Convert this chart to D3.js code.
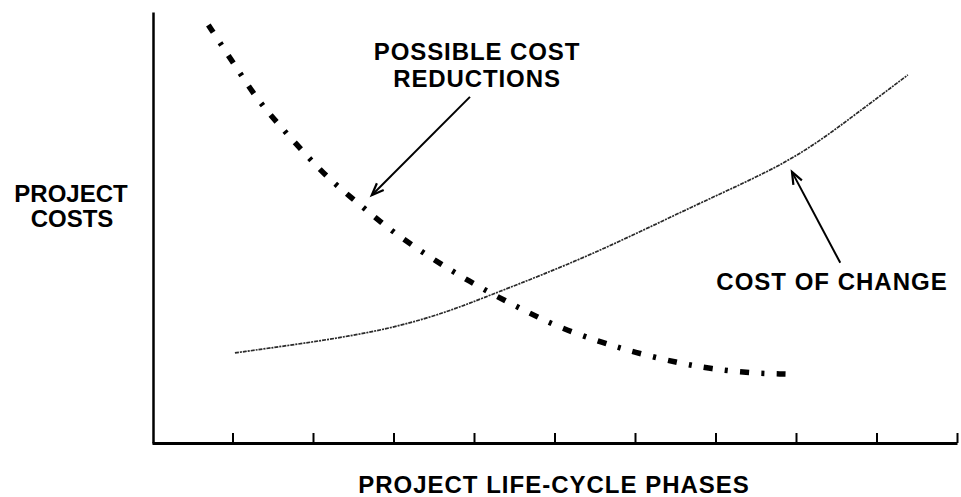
<!DOCTYPE html>
<html>
<head>
<meta charset="utf-8">
<script src="https://cdn.jsdelivr.net/npm/d3@7"></script>
<style>
  html, body { margin: 0; padding: 0; background: #fff; }
  svg { display: block; }
  text { font-family: "Liberation Sans", Arial, Helvetica, sans-serif; font-weight: bold; fill: #000; }
</style>
</head>
<body>
<svg id="chart" width="961" height="497"></svg>
<script>
// ---- data ----
const phases = [1, 2, 3, 4, 5, 6, 7, 8, 9, 10];
const tickLabels = ["", "", "", "", "", "", "", "", "", ""];

// Possible cost reductions (phase, relative cost)
const reductionX = [0.70, 0.97, 1.31, 1.56, 1.88, 2.21, 2.59, 2.96, 3.37, 3.77, 4.20, 4.61, 5.04, 5.61, 5.98, 6.53, 6.94, 7.44, 7.87];
const reductionY = [97.0, 89.3, 79.6, 74.2, 67.5, 61.0, 55.2, 49.4, 44.1, 39.4, 34.8, 30.9, 26.9, 23.2, 21.1, 18.6, 17.2, 16.2, 16.0];

// Cost of change (phase, relative cost)
const changeX = [1.03, 1.84, 2.46, 3.08, 3.70, 4.20, 5.45, 6.82, 7.94, 8.68, 9.39];
const changeY = [20.9, 23.0, 24.8, 27.1, 30.6, 34.3, 43.4, 55.9, 65.2, 75.4, 85.4];

const labels = {
  yTitle: ["PROJECT", "COSTS"],
  xTitle: "PROJECT LIFE-CYCLE PHASES",
  reduction: ["POSSIBLE COST", "REDUCTIONS"],
  change: "COST OF CHANGE"
};

// ---- chart ----
const svg = d3.select("#chart");
const x = d3.scaleLinear().domain([0, 10]).range([152, 957]);
const y = d3.scaleLinear().domain([0, 100]).range([443, 12]);

// x axis with upward ticks
const xAxis = svg.append("g")
  .attr("transform", `translate(0,${y(0)})`)
  .call(d3.axisBottom(x).tickValues(phases).tickSizeInner(-10).tickSizeOuter(0)
    .tickFormat((d, i) => tickLabels[i]));
xAxis.select(".domain").attr("stroke", "#000").attr("stroke-width", 3);
xAxis.selectAll(".tick line").attr("stroke", "#000").attr("stroke-width", 2);

// y axis line only
const yAxis = svg.append("g")
  .attr("transform", `translate(${x(0) + 1},0)`)
  .call(d3.axisLeft(y).tickValues([]).tickSizeOuter(0));
yAxis.select(".domain").attr("stroke", "#000").attr("stroke-width", 2.5);

const line = d3.line().x(d => x(d[0])).y(d => y(d[1])).curve(d3.curveBasis);

const redData = reductionX.map((v, i) => [v, reductionY[i]]);
const chgData = changeX.map((v, i) => [v, changeY[i]]);

svg.append("path")
  .datum(chgData)
  .attr("d", line)
  .attr("fill", "none")
  .attr("stroke", "#2a2a2a")
  .attr("stroke-width", 1.7)
  .attr("stroke-dasharray", "4,1,2,1");

const redPath = svg.append("path")
  .datum(redData)
  .attr("d", line)
  .attr("fill", "none")
  .attr("stroke", "#000")
  .attr("stroke-width", 5.5);
// scale the dash pattern slightly so the curve starts and ends on a block
const pattern = [9, 12, 3, 12];
const period = d3.sum(pattern);
const L = redPath.node().getTotalLength();
const n = Math.round((L - pattern[0]) / period);
const k = L / (n * period + pattern[0]);
redPath.attr("stroke-dasharray", pattern.map(v => v * k).join(","));

// arrows
function arrow(x1, y1, x2, y2) {
  const px1 = x(x1), py1 = y(y1), px2 = x(x2), py2 = y(y2);
  svg.append("line")
    .attr("x1", px1).attr("y1", py1).attr("x2", px2).attr("y2", py2)
    .attr("stroke", "#000").attr("stroke-width", 2);
  const ang = Math.atan2(py1 - py2, px1 - px2);
  const len = 13, spread = 0.38;
  const a1 = [px2 + len * Math.cos(ang + spread), py2 + len * Math.sin(ang + spread)];
  const a2 = [px2 + len * Math.cos(ang - spread), py2 + len * Math.sin(ang - spread)];
  svg.append("path")
    .attr("d", `M${a1[0]},${a1[1]}L${px2},${py2}L${a2[0]},${a2[1]}`)
    .attr("fill", "none").attr("stroke", "#000").attr("stroke-width", 2.2);
}
arrow(3.95, 80.3, 2.73, 57.5);
arrow(8.55, 41.8, 7.95, 62.9);

// labels
svg.append("text").attr("x", 71).attr("y", 202).attr("text-anchor", "middle")
  .attr("font-size", 24).text(labels.yTitle[0]);
svg.append("text").attr("x", 72).attr("y", 227).attr("text-anchor", "middle")
  .attr("font-size", 24).text(labels.yTitle[1]);

svg.append("text").attr("x", 554).attr("y", 493).attr("text-anchor", "middle")
  .attr("font-size", 24).attr("letter-spacing", 1).text(labels.xTitle);

svg.append("text").attr("x", 477).attr("y", 60).attr("text-anchor", "middle")
  .attr("font-size", 24).attr("letter-spacing", 0.9).text(labels.reduction[0]);
svg.append("text").attr("x", 477).attr("y", 87).attr("text-anchor", "middle")
  .attr("font-size", 24).attr("letter-spacing", 0.9).text(labels.reduction[1]);

svg.append("text").attr("x", 832).attr("y", 290).attr("text-anchor", "middle")
  .attr("font-size", 24).attr("letter-spacing", 1).text(labels.change);
</script>
</body>
</html>
